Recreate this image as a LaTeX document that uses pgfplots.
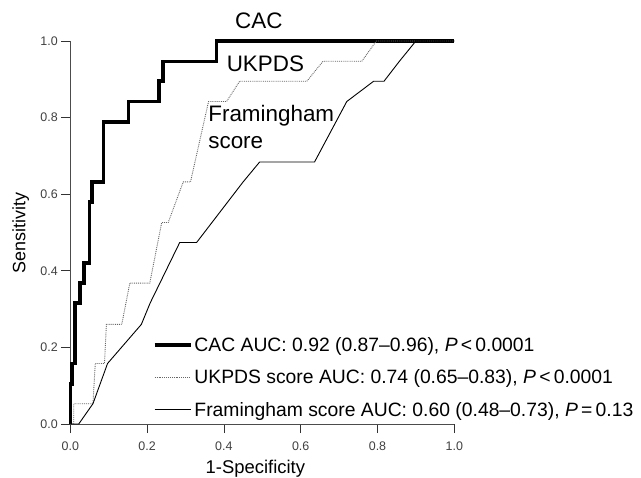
\documentclass[border=0pt]{standalone}
\usepackage{fontspec}
\setmainfont{Liberation Sans}
\usepackage{pgfplots}
\pgfplotsset{compat=1.18}
\begin{document}
\begin{tikzpicture}
\path[use as bounding box] (0,0) rectangle (641bp,478bp);
\begin{axis}[
    at={(70.3bp,54bp)}, anchor=south west,
    scale only axis, width=384bp, height=383bp,
    xmin=0, xmax=1, ymin=0, ymax=1,
    clip=false,
    axis lines*=left,
    axis line style={black!70, line width=0.8bp},
    tick align=outside,
    major tick length=9bp,
    tick style={black!80, line width=0.8bp},
    xtick={0,0.2,0.4,0.6,0.8,1},
    xticklabels={0.0,0.2,0.4,0.6,0.8,1.0},
    ytick={0,0.2,0.4,0.6,0.8,1},
    yticklabels={0.0,0.2,0.4,0.6,0.8,1.0},
    ticklabel style={font=\fontsize{12.5}{12.5}\selectfont, text=black!75},
    xticklabel style={yshift=-5bp},
    xlabel={1-Specificity},
    ylabel={Sensitivity},
    xlabel style={font=\fontsize{18.5}{18.5}\selectfont, at={(axis cs:0.482,-0.1287)}, anchor=base},
    ylabel style={font=\fontsize{18}{18}\selectfont, at={(axis cs:-0.129,0.498)}, anchor=center},
    legend cell align=left,
    legend style={draw=none, fill=none, font=\fontsize{19.4}{21}\selectfont,
        at={(axis cs:0.207,0.238)}, anchor=north west, row sep=13bp},
    legend image code/.code={\draw[#1] (0bp,0bp) -- (36bp,0bp);},
]
% CAC
\addplot[black, line width=3.5bp, line join=miter] coordinates {
 (0,0) (0,0.105) (0.004,0.105) (0.004,0.158) (0.012,0.158) (0.012,0.316)
 (0.025,0.316) (0.025,0.368) (0.036,0.368) (0.036,0.421) (0.050,0.421)
 (0.050,0.579) (0.056,0.579) (0.056,0.632) (0.086,0.632) (0.086,0.789)
 (0.151,0.789) (0.151,0.842) (0.231,0.842) (0.231,0.895) (0.242,0.895)
 (0.242,0.947) (0.381,0.947) (0.381,1) (1,1)
};
\addlegendentry{CAC AUC: 0.92 (0.87--0.96), \textit{P}\,<\,0.0001}
% UKPDS
\addplot[black!60, densely dotted, line width=0.9bp] coordinates {
 (0,0) (0.009,0) (0.009,0.053) (0.059,0.053) (0.065,0.158) (0.089,0.158)
 (0.094,0.26) (0.134,0.26) (0.155,0.368) (0.207,0.368) (0.238,0.526)
 (0.255,0.526) (0.294,0.632) (0.313,0.632) (0.36,0.842) (0.407,0.842)
 (0.441,0.895) (0.616,0.895) (0.658,0.947) (0.759,0.947) (0.797,1) (1,1)
};
\addlegendentry{UKPDS score AUC: 0.74 (0.65--0.83), \textit{P}\,<\,0.0001}
% Framingham
\addplot[black, line width=0.9bp] coordinates {
 (0,0) (0.022,0) (0.059,0.053) (0.097,0.158) (0.185,0.26) (0.208,0.316)
 (0.285,0.474) (0.329,0.474) (0.45,0.632) (0.493,0.684) (0.636,0.684)
 (0.72,0.842) (0.79,0.895) (0.817,0.895) (0.857,0.947) (0.90,1) (1,1)
};
\addlegendentry{Framingham score AUC: 0.60 (0.48--0.73), \textit{P}\,=\,0.13}

\node[anchor=base west, inner sep=0, font=\fontsize{22.5}{22.5}\selectfont] at (axis cs:0.429,1.033) {CAC};
\node[anchor=base west, inner sep=0, font=\fontsize{22.5}{22.5}\selectfont] at (axis cs:0.407,0.920) {UKPDS};
\node[anchor=base west, inner sep=0, font=\fontsize{22.5}{22.5}\selectfont] at (axis cs:0.359,0.789) {Framingham};
\node[anchor=base west, inner sep=0, font=\fontsize{22.5}{22.5}\selectfont] at (axis cs:0.359,0.720) {score};
\end{axis}
\end{tikzpicture}
\end{document}
